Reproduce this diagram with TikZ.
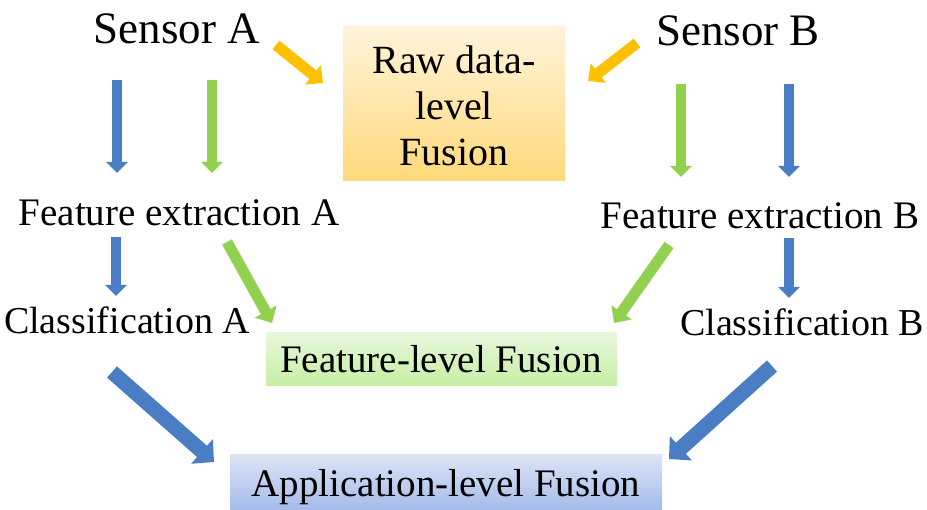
\documentclass[tikz,border=0pt]{standalone}
\usepackage{fontspec}
\setmainfont{Liberation Serif}
\usetikzlibrary{arrows.meta}
\definecolor{barblue}{HTML}{4A7EC4}
\definecolor{bargreen}{HTML}{92D050}
\definecolor{barorange}{HTML}{FFC000}
\definecolor{rawtop}{HTML}{FFF3DA}
\definecolor{rawbot}{HTML}{FFD97A}
\definecolor{feattop}{HTML}{E8F7DC}
\definecolor{featbot}{HTML}{C5EFA4}
\definecolor{apptop}{HTML}{DCE4F5}
\definecolor{appbot}{HTML}{A5BBEA}
\tikzset{
  lbl/.style={inner sep=0pt, font=\fontsize{39}{46}\selectfont},
  clslbl/.style={inner sep=0pt, font=\fontsize{38}{46}\selectfont},
  sensor/.style={inner sep=0pt, font=\fontsize{45}{54}\selectfont},
  fusionbox/.style={inner sep=0pt, align=center, font=\fontsize{40}{46}\selectfont},
  block/.style n args={3}{line width=#1, -{Triangle[width=#2,length=#3]}},
  vblue/.style={barblue, block={10pt}{21pt}{11pt}},
  vgreen/.style={bargreen, block={10pt}{21pt}{11pt}},
  dgreen/.style={bargreen, block={11pt}{24pt}{13pt}},
  dorange/.style={barorange, block={11pt}{24pt}{13pt}},
  dblue/.style={barblue, block={15pt}{32pt}{16pt}},
}
\begin{document}
\begin{tikzpicture}[x=1pt,y=-1pt]
\useasboundingbox (0,0) rectangle (927,510);

% fusion boxes with vertical gradients
\shade[top color=rawtop, bottom color=rawbot]
  (343,27) rectangle (565,181);
\node[fusionbox] (raw) at (454,106) {Raw data-\\level\\Fusion};

\shade[top color=feattop, bottom color=featbot]
  (266,333) rectangle (617,386);
\node[lbl] (feat) at (441,359) {Feature-level Fusion};

\shade[top color=apptop, bottom color=appbot]
  (230,455) rectangle (662,510);
\node[lbl] (app) at (446,487) {Application-level Fusion};

% labels
\node[sensor] (sa) at (177,29) {Sensor A};
\node[sensor] (sb) at (738,31) {Sensor B};
\node[lbl] (fea) at (179,213) {Feature extraction A};
\node[lbl] (feb) at (760,216) {Feature extraction B};
\node[clslbl] (cla) at (127,320) {Classification A};
\node[clslbl] (clb) at (802,322) {Classification B};

% arrow end points
\coordinate (oa1) at (276,45);  \coordinate (oa2) at (323,83);
\coordinate (ob1) at (637,43);  \coordinate (ob2) at (588,81);
\coordinate (ba1) at (117,80);  \coordinate (ba2) at (117,173);
\coordinate (ga1) at (212,80);  \coordinate (ga2) at (212,173);
\coordinate (gb1) at (681,84);  \coordinate (gb2) at (681,177);
\coordinate (bb1) at (789,84);  \coordinate (bb2) at (789,177);
\coordinate (ba3) at (116,237); \coordinate (ba4) at (116,296);
\coordinate (bb3) at (789,238); \coordinate (bb4) at (789,298);
\coordinate (gd1) at (227,242); \coordinate (gd2) at (272,323);
\coordinate (gd3) at (669,245); \coordinate (gd4) at (614,323);
\coordinate (bd1) at (112,372); \coordinate (bd2) at (214,462);
\coordinate (bd3) at (772,366); \coordinate (bd4) at (669,459);

% block arrows
\draw[dorange] (oa1) -- (oa2);
\draw[dorange] (ob1) -- (ob2);
\draw[vblue] (ba1) -- (ba2);
\draw[vgreen] (ga1) -- (ga2);
\draw[vgreen] (gb1) -- (gb2);
\draw[vblue] (bb1) -- (bb2);
\draw[vblue] (ba3) -- (ba4);
\draw[vblue] (bb3) -- (bb4);
\draw[dgreen] (gd1) -- (gd2);
\draw[dgreen] (gd3) -- (gd4);
\draw[dblue] (bd1) -- (bd2);
\draw[dblue] (bd3) -- (bd4);
\end{tikzpicture}
\end{document}
